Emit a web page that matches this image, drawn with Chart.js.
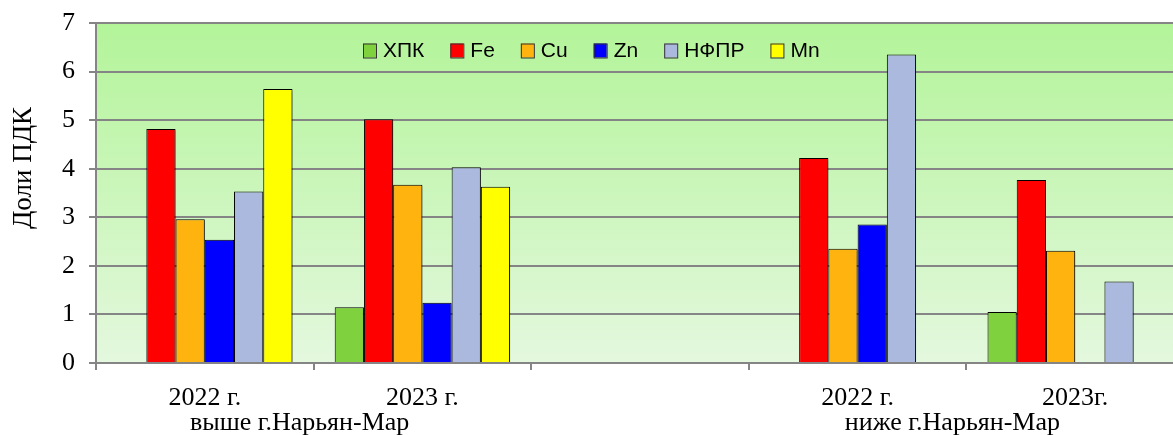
<!DOCTYPE html>
<html>
<head>
<meta charset="utf-8">
<script src="https://cdn.jsdelivr.net/npm/chart.js@4.4.1/dist/chart.umd.min.js"></script>
<style>
  html, body { margin: 0; padding: 0; background: #fff; overflow: hidden; }
  #wrap { position: relative; width: 1173px; height: 435px; overflow: hidden; }
  #box { position: absolute; left: 0; top: 0; width: 1190px; height: 435px; }
</style>
</head>
<body>
<div id="wrap"><div id="box"><canvas id="c" width="1190" height="435"></canvas></div></div>
<script>
// ---- data ----
const categories = ['2022 г.', '2023 г.', '', '2022 г.', '2023г.'];
const groupLabels = ['выше г.Нарьян-Мар', 'ниже г.Нарьян-Мар'];
const groupSpans = [[0, 1], [3, 4]];
const seriesNames = ['ХПК', 'Fe', 'Cu', 'Zn', 'НФПР', 'Mn'];
const xpk  = [null, 1.15, null, null, 1.05];
const fe   = [4.82, 5.02, null, 4.22, 3.77];
const cu   = [2.96, 3.67, null, 2.35, 2.31];
const zn   = [2.54, 1.24, null, 2.85, null];
const nfpr = [3.53, 4.03, null, 6.35, 1.68];
const mn   = [5.64, 3.63, null, null, null];
const yTicks = [0, 1, 2, 3, 4, 5, 6, 7];
const yTitle = 'Доли ПДК';

const colors = ['#80d13e', '#ff0000', '#ffb30f', '#0000ff', '#aab9dd', '#ffff00'];
const seriesData = [xpk, fe, cu, zn, nfpr, mn];

const bgPlugin = {
  id: 'bg',
  beforeDraw(chart) {
    const { ctx, chartArea: a } = chart;
    const g = ctx.createLinearGradient(0, a.top, 0, a.bottom);
    g.addColorStop(0, '#b3f499');
    g.addColorStop(1, '#e4f8de');
    ctx.save();
    ctx.fillStyle = g;
    ctx.fillRect(a.left, a.top, a.right - a.left, a.bottom - a.top);
    ctx.restore();
  },
  beforeDatasetsDraw(chart) {
    const ctx = chart.ctx;
    ctx.save();
    ctx.shadowColor = 'rgba(0,0,0,0.35)';
    ctx.shadowOffsetX = 1.5;
    ctx.shadowOffsetY = 1.5;
    ctx.shadowBlur = 2;
  },
  afterDatasetsDraw(chart) {
    chart.ctx.restore();
  },
  afterDraw(chart) {
    const { ctx, chartArea: a, scales } = chart;
    // legend
    ctx.save();
    ctx.font = '21px "Liberation Sans"';
    ctx.textBaseline = 'middle';
    ctx.textAlign = 'left';
    let x = a.left + 267;
    const yc = a.top + 27.5;
    chart.data.datasets.forEach(ds => {
      ctx.fillStyle = ds.backgroundColor;
      ctx.fillRect(x, yc - 7, 13, 14);
      ctx.strokeStyle = '#333';
      ctx.lineWidth = 1;
      ctx.strokeRect(x + 0.5, yc - 6.5, 13, 14);
      ctx.fillStyle = '#000';
      ctx.fillText(ds.label, x + 20, yc + 1);
      x += 20 + ctx.measureText(ds.label).width + 26;
    });
    // y title
    ctx.font = '27px "Liberation Serif"';
    ctx.translate(24, a.top + 145);
    ctx.rotate(-Math.PI / 2);
    ctx.textAlign = 'center';
    ctx.textBaseline = 'middle';
    ctx.fillText(yTitle, 0, 0);
    ctx.restore();
    // group labels
    ctx.save();
    ctx.font = '26px "Liberation Serif"';
    ctx.fillStyle = '#000';
    ctx.textAlign = 'center';
    ctx.textBaseline = 'alphabetic';
    groupLabels.forEach((t, i) => {
      const [s, e] = groupSpans[i];
      const xm = (scales.x.getPixelForValue(s) + scales.x.getPixelForValue(e)) / 2 - 14;
      ctx.fillText(t, xm, a.bottom + 67);
    });
    ctx.restore();
  }
};

new Chart(document.getElementById('c'), {
  type: 'bar',
  data: {
    labels: categories,
    datasets: seriesNames.map((n, i) => ({
      label: n,
      data: seriesData[i],
      backgroundColor: colors[i],
      borderColor: '#000',
      borderWidth: 1,
      categoryPercentage: 0.806,
      barPercentage: 1
    }))
  },
  options: {
    responsive: false,
    animation: false,
    layout: { padding: { left: 0, right: 6, top: 23, bottom: 0 } },
    plugins: { legend: { display: false }, tooltip: { enabled: false } },
    scales: {
      x: {
        offset: true,
        grid: { display: true, drawOnChartArea: false, drawTicks: true, tickLength: 7, color: '#858585', lineWidth: 2, offset: true },
        border: { display: true, color: '#858585', width: 2 },
        ticks: { font: { family: 'Liberation Serif', size: 26 }, color: '#000', padding: 13, maxRotation: 0, autoSkip: false },
        afterFit(s) { s.height = 72; s.paddingLeft = 0; s.paddingRight = 0; }
      },
      y: {
        min: 0, max: 7,
        afterBuildTicks(s) { s.ticks = yTicks.map(v => ({ value: v })); },
        grid: { color: '#858585', lineWidth: 2, tickLength: 7, drawTicks: true },
        border: { display: true, color: '#858585', width: 2 },
        ticks: { font: { family: 'Liberation Serif', size: 26 }, color: '#000', padding: 14 },
        afterFit(s) { s.width = 96; s.paddingTop = 0; s.paddingBottom = 0; }
      }
    }
  },
  plugins: [bgPlugin]
});
</script>
</body>
</html>
